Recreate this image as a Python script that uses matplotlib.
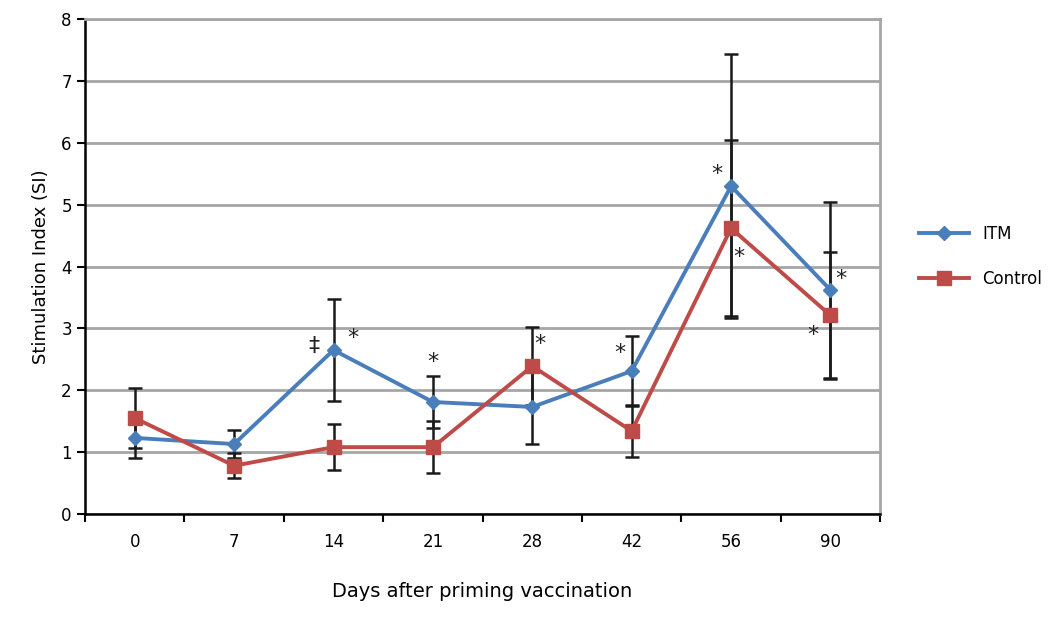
import numpy as np
import matplotlib
matplotlib.use("Agg")
import matplotlib.pyplot as plt

# data
days = ['0', '7', '14', '21', '28', '42', '56', '90']
itm = [1.23, 1.13, 2.65, 1.81, 1.73, 2.31, 5.30, 3.62]
itm_err = [0.33, 0.23, 0.82, 0.42, 0.60, 0.57, 2.13, 1.42]
control = [1.55, 0.78, 1.08, 1.08, 2.39, 1.34, 4.62, 3.21]
control_err = [0.48, 0.20, 0.37, 0.42, 0.63, 0.42, 1.42, 1.03]

# significance marks: (category index, y value, text)
marks = [(1.8, 2.72, '\u2021'), (2.2, 2.85, '*'), (3.0, 2.45, '*'),
         (4.08, 2.75, '*'), (4.88, 2.6, '*'), (5.86, 5.5, '*'),
         (6.08, 4.15, '*'), (7.1, 3.8, '*'), (6.82, 2.9, '*')]

plt.rcParams['font.family'] = ['DejaVu Sans']

fig = plt.figure(figsize=(10.63, 6.17), dpi=100)
ax = fig.add_axes([0.080, 0.167, 0.748, 0.802])

x = np.arange(len(days))
blue = '#4a7ebb'
red = '#be4b48'

ax.errorbar(x, itm, yerr=itm_err, fmt='none', ecolor='#1a1a1a', elinewidth=1.8,
            capsize=5, capthick=1.8, zorder=3)
ax.errorbar(x, control, yerr=control_err, fmt='none', ecolor='#1a1a1a', elinewidth=1.8,
            capsize=5, capthick=1.8, zorder=3)
ax.plot(x, itm, color=blue, lw=2.8, marker='D', ms=7, label='ITM', zorder=4)
ax.plot(x, control, color=red, lw=2.8, marker='s', ms=10, label='Control', zorder=4)

for xi, yi, t in marks:
    ax.text(xi, yi, t, ha='center', va='center', fontsize=16, color='#222222', zorder=5)

ax.set_xlim(-0.5, 7.5)
ax.set_ylim(0, 8)
ax.set_yticks(range(0, 9))
ax.set_xticks(x)
ax.set_xticklabels(days)
ax.set_xticks(np.arange(-0.5, 8, 1), minor=True)
ax.tick_params(axis='x', which='major', length=0, pad=14, labelsize=12)
ax.tick_params(axis='x', which='minor', length=6, width=1.5, direction='out')
ax.tick_params(axis='y', length=6, width=1.5, direction='out', labelsize=12)

ax.yaxis.grid(True, color='#a6a6a6', lw=2)
ax.set_axisbelow(True)
ax.spines['left'].set_linewidth(1.8)
ax.spines['bottom'].set_linewidth(1.8)
ax.spines['right'].set_color('#a6a6a6')
ax.spines['right'].set_linewidth(2)
ax.spines['top'].set_color('#a6a6a6')
ax.spines['top'].set_linewidth(2)

ax.set_ylabel('Stimulation Index (SI)', fontsize=13, labelpad=8)
ax.set_xlabel('Days after priming vaccination', fontsize=14, labelpad=22)

ax.legend(loc='center left', bbox_to_anchor=(1.03, 0.52), frameon=False,
          fontsize=12, handlelength=3, labelspacing=1.6)

fig.savefig('out.png', dpi=100)
